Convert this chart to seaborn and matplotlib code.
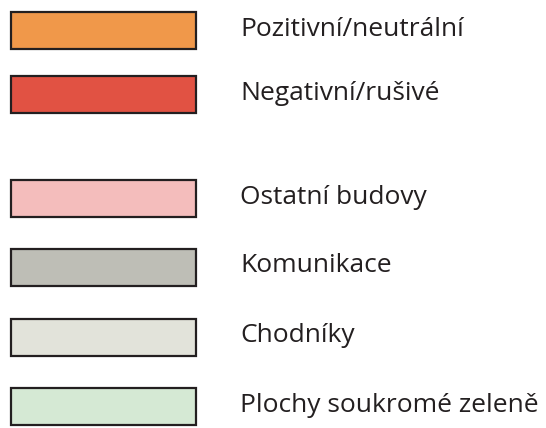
import matplotlib
matplotlib.use("Agg")
import matplotlib.pyplot as plt
import seaborn as sns
import pandas as pd

# legend entries
labels = ["Pozitivní/neutrální", "Negativní/rušivé", "Ostatní budovy",
          "Komunikace", "Chodníky", "Plochy soukromé zeleně"]
colors = ["#F0984A", "#E15243", "#F4BDBC", "#BEBEB6", "#E2E3DA", "#D5E9D4"]

# layout (pixel rows of the legend swatches)
row_y = [30.5, 94.5, 198.5, 267, 337, 406]
swatch_len = 185

sns.set_theme(style="white")
plt.rcParams["font.family"] = ["Open Sans", "DejaVu Sans"]

fig = plt.figure(figsize=(5.46, 4.28), dpi=100)
ax = fig.add_axes([0, 0, 1, 1])

df = pd.DataFrame({"label": labels, "y": row_y, "len": [swatch_len] * len(labels)})
sns.barplot(data=df, x="len", y="y", hue="label", palette=colors, orient="h",
            native_scale=True, dodge=False, width=37 / 64, legend=False,
            saturation=1, edgecolor="#231F20", linewidth=1.6, ax=ax)

ax.set_xlim(-11, 535)
ax.set_ylim(428, 0)
for lab, y in zip(labels, row_y):
    ax.text(229, y - 1, lab, va="center", ha="left", fontsize=19, color="#231F20")
ax.axis("off")
fig.savefig("out.png", dpi=100)
